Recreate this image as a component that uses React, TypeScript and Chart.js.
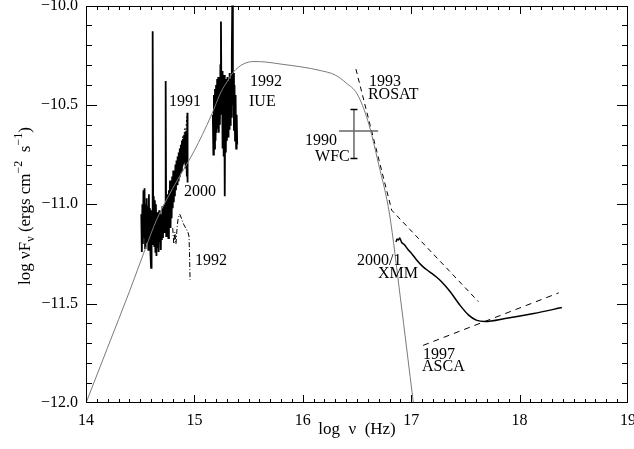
import { useEffect, useRef } from "react";
import { Chart, registerables } from "chart.js";

Chart.register(...registerables);

// ---- axis ticks ----
const xTickValues = [14, 15, 16, 17, 18, 19];
const yTickValues = [-12, -11.5, -11, -10.5, -10];
const xMinorStep = 0.1;
const yMinorStep = 0.1;

// ---- model (grey curve) ----
const modelLogNu = [14.0, 14.2, 14.4, 14.55, 14.65, 14.8, 15.0, 15.15, 15.25, 15.3, 15.36, 15.45, 15.55, 15.65, 15.8, 16.0, 16.16, 16.3, 16.4, 16.5, 16.6, 16.7, 16.8, 16.9, 17.02, 17.1];
const modelFlux = [-12.0, -11.72, -11.44, -11.22, -11.08, -10.92, -10.73, -10.56, -10.43, -10.385, -10.335, -10.295, -10.282, -10.284, -10.295, -10.31, -10.327, -10.35, -10.39, -10.444, -10.58, -10.8, -11.05, -11.47, -12.0, -12.35];

// ---- optical spectrum 2000 (solid, noisy) ----
const opt2000LogNu = [14.51, 14.515, 14.52, 14.525, 14.53, 14.535, 14.54, 14.545, 14.55, 14.555, 14.56, 14.565, 14.57, 14.575, 14.58, 14.585, 14.59, 14.595, 14.6, 14.605, 14.61, 14.615, 14.62, 14.625, 14.63, 14.635, 14.64, 14.645, 14.65, 14.655, 14.66, 14.665, 14.67, 14.675, 14.68, 14.685, 14.69, 14.695, 14.7, 14.705, 14.71, 14.715, 14.72, 14.725, 14.73, 14.735, 14.74, 14.745, 14.75, 14.755, 14.76, 14.765, 14.77, 14.775, 14.78, 14.785, 14.79, 14.795, 14.8, 14.805, 14.81, 14.815, 14.82, 14.825, 14.83, 14.835, 14.84, 14.845, 14.85, 14.855, 14.86, 14.865, 14.87, 14.875, 14.88, 14.885, 14.89, 14.895, 14.9, 14.905, 14.91, 14.915, 14.92, 14.925, 14.93, 14.935, 14.937];
const opt2000Flux = [-11.05, -11.24, -11.0, -11.2, -10.93, -11.17, -10.92, -11.22, -11.0, -11.19, -10.97, -11.16, -11.01, -11.23, -10.95, -11.18, -11.02, -11.25, -11.32, -11.03, -11.2, -10.13, -11.12, -10.96, -11.21, -10.98, -11.24, -11.0, -11.26, -11.04, -11.22, -11.06, -11.24, -11.03, -11.19, -11.07, -11.23, -11.05, -11.18, -11.01, -11.17, -11.04, -11.14, -11.0, -11.12, -10.38, -11.16, -10.98, -11.14, -10.95, -11.17, -10.93, -11.1, -10.88, -11.12, -10.91, -11.07, -10.86, -11.02, -10.83, -10.99, -10.84, -10.96, -10.8, -10.93, -10.78, -10.9, -10.76, -10.88, -10.74, -10.86, -10.72, -10.84, -10.7, -10.83, -10.68, -10.81, -10.67, -10.8, -10.65, -10.79, -10.64, -10.82, -10.63, -10.86, -10.54, -10.89];

// ---- optical spectrum 1991 (dotted) ----
const opt1991LogNu = [14.76, 14.78, 14.8, 14.82, 14.84, 14.86, 14.87, 14.88, 14.89, 14.9, 14.91, 14.92, 14.93];
const opt1991Flux = [-11.0, -10.93, -10.96, -10.86, -10.84, -10.78, -10.72, -10.75, -10.66, -10.69, -10.62, -10.64, -10.56];

// ---- optical spectrum 1992 (dash-dot) ----
const opt1992LogNu = [14.8, 14.81, 14.82, 14.83, 14.84, 14.85, 14.865, 14.88, 14.9, 14.92, 14.94, 14.95, 14.955, 14.96];
const opt1992Flux = [-11.12, -11.2, -11.14, -11.2, -11.12, -11.07, -11.05, -11.07, -11.1, -11.12, -11.14, -11.16, -11.25, -11.38];

// ---- IUE 1992 (solid, noisy) ----
const iueLogNu = [15.17, 15.175, 15.18, 15.185, 15.19, 15.195, 15.2, 15.205, 15.21, 15.215, 15.22, 15.225, 15.23, 15.235, 15.24, 15.245, 15.25, 15.255, 15.26, 15.265, 15.27, 15.275, 15.28, 15.285, 15.29, 15.295, 15.3, 15.305, 15.31, 15.315, 15.32, 15.325, 15.33, 15.335, 15.34, 15.345, 15.35, 15.355, 15.36, 15.365, 15.37, 15.375, 15.38, 15.385, 15.39, 15.395];
const iueFlux = [-10.55, -10.75, -10.45, -10.72, -10.42, -10.68, -10.4, -10.64, -10.37, -10.62, -10.36, -10.64, -10.37, -10.6, -10.3, -10.08, -10.55, -10.33, -10.72, -10.38, -10.76, -10.35, -10.96, -10.37, -10.74, -10.4, -10.68, -10.36, -10.66, -10.38, -10.62, -10.34, -10.6, -10.37, -10.56, -10.25, -9.95, -10.5, -10.34, -10.63, -10.4, -10.68, -10.45, -10.72, -10.55, -10.7];

// ---- WFC 1990 (cross) ----
const wfcLogNu = [16.472];
const wfcLogNuErr = [16.335, 16.695];
const wfcFlux = [-10.632];
const wfcFluxErr = [-10.523, -10.77];

// ---- ROSAT 1993 (dashed) ----
const rosatLogNu = [16.49, 16.82, 17.62];
const rosatFlux = [-10.32, -11.03, -11.49];

// ---- XMM 2000/1 (solid) ----
const xmmLogNu = [16.86, 16.87, 16.88, 16.895, 16.91, 16.94, 16.97, 17.0, 17.05, 17.11, 17.17, 17.23, 17.28, 17.36, 17.45, 17.53, 17.6, 17.68, 17.88, 18.13, 18.39];
const xmmFlux = [-11.19, -11.175, -11.18, -11.17, -11.19, -11.205, -11.228, -11.245, -11.28, -11.315, -11.34, -11.365, -11.39, -11.44, -11.508, -11.558, -11.583, -11.59, -11.574, -11.55, -11.52];

// ---- ASCA 1997 (dashed) ----
const ascaLogNu = [17.11, 18.36];
const ascaFlux = [-11.71, -11.446];

// ---- in-plot labels (text, anchor in data units) ----
const labelTexts = ["1991", "2000", "1992", "IUE", "1992", "1993", "ROSAT", "1990", "WFC", "2000/1", "XMM", "1997", "ASCA"];
const labelLogNu = [14.766, 14.904, 15.513, 15.504, 15.006, 16.611, 16.601, 16.02, 16.113, 16.5, 16.694, 17.109, 17.1];
const labelFlux = [-10.482, -10.935, -10.384, -10.487, -11.286, -10.384, -10.447, -10.683, -10.759, -11.286, -11.352, -11.759, -11.819];

const FONT = "'Liberation Serif', serif";

const toPts = (xs: number[], ys: number[]) => xs.map((x, i) => ({ x, y: ys[i] }));

function drawFrame(chart: any) {
  const ctx: CanvasRenderingContext2D = chart.ctx;
  const xs = chart.scales.x;
  const ys = chart.scales.y;
  const xMin = xTickValues[0];
  const xMax = xTickValues[xTickValues.length - 1];
  const yMin = yTickValues[0];
  const yMax = yTickValues[yTickValues.length - 1];
  const L = Math.round(xs.getPixelForValue(xMin));
  const R = Math.round(xs.getPixelForValue(xMax));
  const T = Math.round(ys.getPixelForValue(yMax));
  const B = Math.round(ys.getPixelForValue(yMin));
  ctx.save();
  ctx.globalCompositeOperation = "source-over";
  ctx.globalAlpha = 1;
  ctx.fillStyle = "#000";
  ctx.fillRect(L, T, R - L, 1);
  ctx.fillRect(L, B - 1, R - L, 1);
  ctx.fillRect(L, T, 1, B - T);
  ctx.fillRect(R - 1, T, 1, B - T);
  const nx = Math.round((xMax - xMin) / xMinorStep);
  for (let i = 0; i <= nx; i++) {
    const px = Math.min(R - 1, Math.round(xs.getPixelForValue(xMin + i * xMinorStep)));
    const len = i % 10 === 0 ? 8 : 4;
    ctx.fillRect(px, B - len, 1, len);
    ctx.fillRect(px, T, 1, len);
  }
  const ny = Math.round((yMax - yMin) / yMinorStep);
  for (let i = 0; i <= ny; i++) {
    const py = Math.min(B - 1, Math.round(ys.getPixelForValue(yMin + i * yMinorStep)));
    const len = i % 5 === 0 ? 11 : 6;
    ctx.fillRect(L, py, len, 1);
    ctx.fillRect(R - len, py, len, 1);
  }
  ctx.restore();
}

function drawTexts(chart: any) {
  const ctx: CanvasRenderingContext2D = chart.ctx;
  const xs = chart.scales.x;
  const ys = chart.scales.y;
  ctx.save();
  ctx.fillStyle = "#000";
  ctx.font = `16px ${FONT}`;
  ctx.textAlign = "left";
  ctx.textBaseline = "middle";
  labelTexts.forEach((t, i) => {
    ctx.fillText(t, xs.getPixelForValue(labelLogNu[i]), ys.getPixelForValue(labelFlux[i]));
  });

  const parts: [string, number][] = [
    ["log \u03BDF", 0],
    ["\u03BD", 1],
    [" (ergs cm", 0],
    ["\u22122", -1],
    ["  s", 0],
    ["\u22121", -1],
    [")", 0],
  ];
  const big = `17px ${FONT}`;
  const small = `12px ${FONT}`;
  let total = 0;
  parts.forEach(([s, k]) => {
    ctx.font = k === 0 ? big : small;
    total += ctx.measureText(s).width;
  });
  ctx.translate(30, 206);
  ctx.rotate(-Math.PI / 2);
  ctx.textBaseline = "alphabetic";
  let cx = -total / 2;
  parts.forEach(([s, k]) => {
    ctx.font = k === 0 ? big : small;
    const dy = k === 0 ? 0 : k > 0 ? 4 : -8;
    ctx.fillText(s, cx, dy);
    cx += ctx.measureText(s).width;
  });
  ctx.restore();
}

const framePlugin = {
  id: "sedFrame",
  afterDraw(chart: any) {
    drawFrame(chart);
    drawTexts(chart);
  },
};

export default function App() {
  const ref = useRef<HTMLCanvasElement | null>(null);
  useEffect(() => {
    document.body.style.margin = "0";
    if (!ref.current) return;
    const common = { showLine: true, pointRadius: 0, fill: false, tension: 0 };
    const chart = new Chart(ref.current, {
      type: "scatter",
      data: {
        datasets: [
          { ...common, label: "model", data: toPts(modelLogNu, modelFlux), borderColor: "#7a7a7a", borderWidth: 1, cubicInterpolationMode: "monotone", order: 0 },
          { ...common, label: "WFC err", data: toPts([wfcLogNu[0], wfcLogNu[0]], wfcFluxErr), borderColor: "#666", borderWidth: 1.5, pointRadius: 3.5, pointStyle: "line", pointBorderColor: "#000", pointBorderWidth: 1.5, order: 1 },
          { ...common, label: "WFC", data: toPts(wfcLogNuErr, [wfcFlux[0], wfcFlux[0]]), borderColor: "#666", borderWidth: 1.5, order: 1 },
          { ...common, label: "2000", data: toPts(opt2000LogNu, opt2000Flux), borderColor: "#000", borderWidth: 1.8, order: 2 },
          { ...common, label: "1991", data: toPts(opt1991LogNu, opt1991Flux), borderColor: "#000", borderWidth: 1, borderDash: [2, 2], order: 2 },
          { ...common, label: "1992", data: toPts(opt1992LogNu, opt1992Flux), borderColor: "#000", borderWidth: 1, borderDash: [5, 2, 1, 2], order: 2 },
          { ...common, label: "IUE", data: toPts(iueLogNu, iueFlux), borderColor: "#000", borderWidth: 1.8, order: 2 },
          { ...common, label: "ROSAT", data: toPts(rosatLogNu, rosatFlux), borderColor: "#000", borderWidth: 1, borderDash: [5, 4], order: 2 },
          { ...common, label: "XMM", data: toPts(xmmLogNu, xmmFlux), borderColor: "#000", borderWidth: 1.5, cubicInterpolationMode: "monotone", order: 2 },
          { ...common, label: "ASCA", data: toPts(ascaLogNu, ascaFlux), borderColor: "#000", borderWidth: 1, borderDash: [6, 5], order: 2 },
        ],
      },
      options: {
        responsive: false,
        animation: false,
        devicePixelRatio: 1,
        layout: { padding: { top: 5, right: 6, left: 0, bottom: 0 } },
        plugins: { legend: { display: false }, tooltip: { enabled: false } },
        scales: {
          x: {
            type: "linear",
            min: 14,
            max: 19,
            afterBuildTicks: (s: any) => {
              s.ticks = xTickValues.map((v) => ({ value: v }));
            },
            ticks: { color: "#000", font: { family: FONT, size: 16 }, padding: 8, maxRotation: 0, autoSkip: false },
            grid: { display: false, drawTicks: false },
            border: { display: false },
            title: { display: true, text: "log  \u03BD  (Hz)", color: "#000", font: { family: FONT, size: 17 }, padding: { top: 0, bottom: 9 } },
            afterFit: (s: any) => {
              s.height = 46;
              s.paddingLeft = 0;
              s.paddingRight = 0;
            },
          },
          y: {
            type: "linear",
            min: -12,
            max: -10,
            afterBuildTicks: (s: any) => {
              s.ticks = yTickValues.map((v) => ({ value: v }));
            },
            ticks: {
              color: "#000",
              font: { family: FONT, size: 16 },
              padding: 8,
              autoSkip: false,
              callback: (v: any) => (Number(v) < 0 ? "\u2212" : "") + Math.abs(Number(v)).toFixed(1),
            },
            grid: { display: false, drawTicks: false },
            border: { display: false },
            afterFit: (s: any) => {
              s.width = 86;
              s.paddingTop = 0;
              s.paddingBottom = 0;
            },
          },
        },
      },
      plugins: [framePlugin],
    } as any);
    return () => chart.destroy();
  }, []);
  return (
    <div style={{ position: "absolute", left: 0, top: 0, width: 634, height: 449 }}>
      <canvas ref={ref} width={634} height={449} style={{ display: "block", width: 634, height: 449 }} />
    </div>
  );
}
